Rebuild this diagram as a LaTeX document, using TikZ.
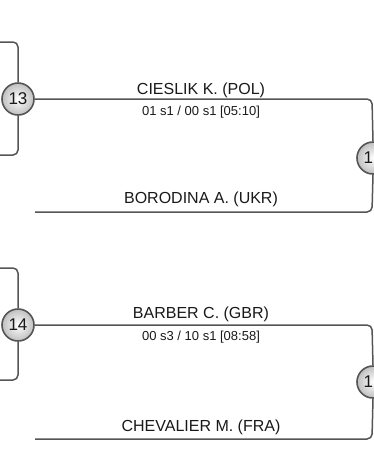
\documentclass[tikz,border=0pt]{standalone}
\usepackage{fontspec}
\setmainfont{Liberation Sans}
\begin{document}
\begin{tikzpicture}[x=1pt,y=-1pt,
  wire/.style={draw=linegray,line width=1.5pt,rounded corners=5pt},
  seed/.style={circle,draw=linegray,line width=1.6pt,minimum size=32pt,inner sep=0pt,
    inner color=white,outer color=black!25,font=\fontsize{17}{20}\selectfont,text=black!90},
  player/.style={anchor=base,font=\fontsize{16}{19}\selectfont,text=black!90},
  score/.style={anchor=base,font=\fontsize{13}{16}\selectfont,text=black!90}]
\definecolor{linegray}{HTML}{555555}
\useasboundingbox (0,0) rectangle (374,451);
% top block
\coordinate (tl1) at (0,42);
\coordinate (tl2) at (18,42);
\coordinate (tl3) at (18,155);
\coordinate (tl4) at (0,155);
\coordinate (tr1) at (372,99);
\coordinate (tr2) at (372,212);
\coordinate (tr3) at (35,212);
\node[seed] (c13) at (18,99) {13};
\node[seed] (r1) at (373,158) {1\phantom{0}};
\draw[wire] (tl1) -- (tl2) -- (c13.north);
\draw[wire] (c13.south) -- (tl3) -- (tl4);
\draw[wire] (c13.east) -- (tr1) -- (r1.north);
\draw[wire] (r1.south) -- (tr2) -- (tr3);
\node[player] (p1) at (201,94) {CIESLIK K. (POL)};
\node[score] (s1) at (201,115.5) {01 s1 / 00 s1 [05:10]};
\node[player] (p2) at (201,203) {BORODINA A. (UKR)};
% bottom block
\coordinate (bl1) at (0,268);
\coordinate (bl2) at (18,268);
\coordinate (bl3) at (18,380);
\coordinate (bl4) at (0,380);
\coordinate (br1) at (372,325);
\coordinate (br2) at (372,439);
\coordinate (br3) at (35,439);
\node[seed] (c14) at (18,325) {14};
\node[seed] (r2) at (373,382) {1\phantom{0}};
\draw[wire] (bl1) -- (bl2) -- (c14.north);
\draw[wire] (c14.south) -- (bl3) -- (bl4);
\draw[wire] (c14.east) -- (br1) -- (r2.north);
\draw[wire] (r2.south) -- (br2) -- (br3);
\node[player] (p3) at (201,318.5) {BARBER C. (GBR)};
\node[score] (s2) at (201,340) {00 s3 / 10 s1 [08:58]};
\node[player] (p4) at (201,431) {CHEVALIER M. (FRA)};
\end{tikzpicture}
\end{document}
